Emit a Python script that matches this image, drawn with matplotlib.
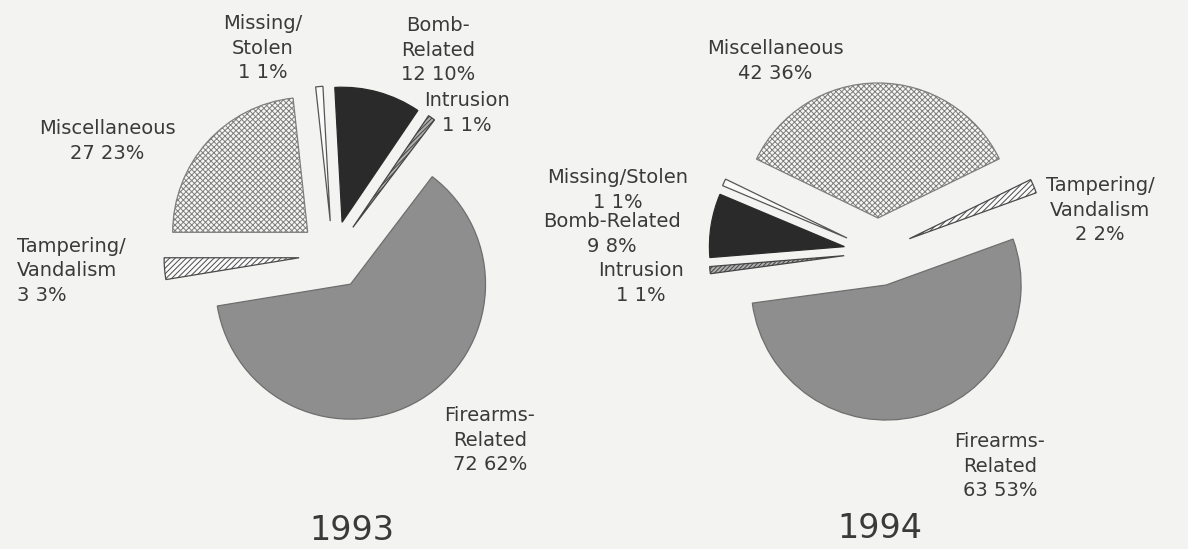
import matplotlib
matplotlib.use('Agg')
import matplotlib.pyplot as plt

# categories in drawing order (Misc first, then around the pie)
categories = ['Miscellaneous', 'Missing/Stolen', 'Bomb-Related', 'Intrusion',
              'Firearms-Related', 'Tampering/Vandalism']
counts_1993 = [27, 1, 12, 1, 72, 3]
pcts_1993 = [23, 1, 10, 1, 62, 3]
counts_1994 = [42, 1, 9, 1, 63, 2]
pcts_1994 = [36, 1, 8, 1, 53, 2]

names_1993 = ['Miscellaneous', 'Missing/\nStolen', 'Bomb-\nRelated', 'Intrusion',
              'Firearms-\nRelated', 'Tampering/\nVandalism']
names_1994 = ['Miscellaneous', 'Missing/Stolen', 'Bomb-Related', 'Intrusion',
              'Firearms-\nRelated', 'Tampering/\nVandalism']

BG = '#f3f3f1'
TXT = '#3a3a3a'
W, H = 1188, 549

plt.rcParams['font.family'] = ['DejaVu Sans']
plt.rcParams['hatch.linewidth'] = 0.7

fig = plt.figure(figsize=(W / 100, H / 100), dpi=100, facecolor=BG)
ax = fig.add_axes([0, 0, 1, 1])
ax.set_facecolor(BG)

# fill styles per category
styles = [
    dict(fc='#f6f6f4', ec='#7e7e7e', hatch='x' * 6),    # Miscellaneous
    dict(fc='#fafafa', ec='#555555', hatch=None),       # Missing/Stolen
    dict(fc='#2a2a2a', ec='#2a2a2a', hatch=None),       # Bomb-Related
    dict(fc='#b0b0b0', ec='#444444', hatch='/' * 8),    # Intrusion
    dict(fc='#8e8e8e', ec='#6e6e6e', hatch=None),       # Firearms-Related
    dict(fc='#fafafa', ec='#4a4a4a', hatch='/' * 6),    # Tampering/Vandalism
]


def draw_pie(counts, center, start, ccw):
    wedges, _ = ax.pie(counts, radius=135, center=center, startangle=start,
                       counterclock=ccw, explode=[34] * len(counts),
                       wedgeprops=dict(linewidth=0.9))
    for w, st in zip(wedges, styles):
        w.set_facecolor(st['fc'])
        w.set_edgecolor(st['ec'])
        if st['hatch']:
            w.set_hatch(st['hatch'])
    return wedges


draw_pie(counts_1993, (333, H - 255), 180, False)
draw_pie(counts_1994, (878, H - 252), 26, True)

ax.set_xlim(0, W)
ax.set_ylim(0, H)
ax.set_aspect('equal')
ax.axis('off')

# label placement (x, y in image pixels, ha)
pos_1993 = [(107, 141, 'center'), (263, 48, 'center'), (438, 50, 'center'),
            (467, 113, 'center'), (490, 440, 'center'), (17, 271, 'left')]
pos_1994 = [(775, 61, 'center'), (618, 190, 'center'), (612, 234, 'center'),
            (641, 283, 'center'), (1000, 466, 'center'), (1100, 210, 'center')]


def put_labels(names, counts, pcts, positions):
    for nm, c, p, (x, y, ha) in zip(names, counts, pcts, positions):
        ax.text(x, H - y, f'{nm}\n{c} {p}%', ha=ha, va='center',
                multialignment='center' if ha == 'center' else 'left',
                fontsize=14, color=TXT, linespacing=1.35)


put_labels(names_1993, counts_1993, pcts_1993, pos_1993)
put_labels(names_1994, counts_1994, pcts_1994, pos_1994)

ax.text(352, H - 530, '1993', ha='center', va='center', fontsize=24, color=TXT)
ax.text(880, H - 528, '1994', ha='center', va='center', fontsize=24, color=TXT)

fig.savefig('out.png', dpi=100, facecolor=BG)
